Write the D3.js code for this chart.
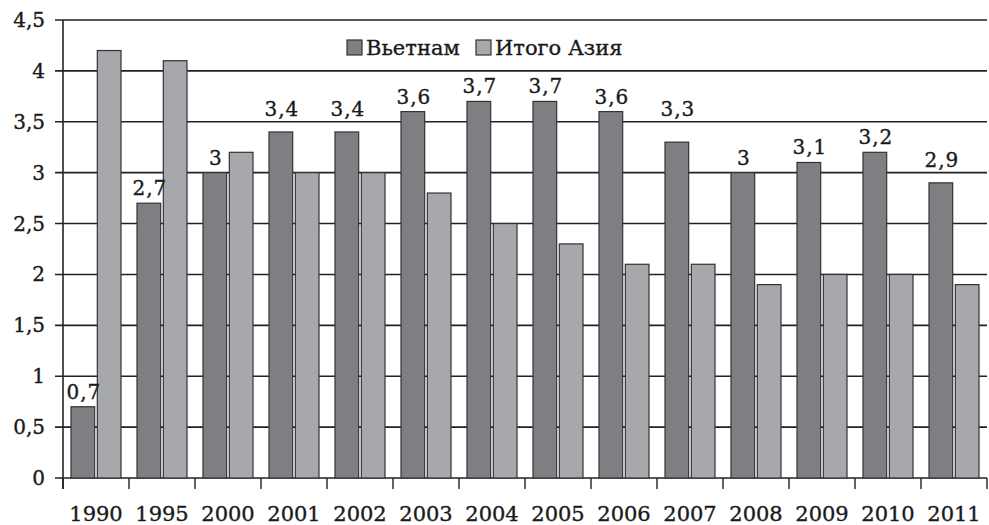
<!DOCTYPE html>
<html>
<head>
<meta charset="utf-8">
<script src="https://cdn.jsdelivr.net/npm/d3@7"></script>
<style>
  body { margin: 0; background: #fff; }
  text { font-family: "DejaVu Serif", "Liberation Serif", serif; fill: #1a1a1a; stroke: #1a1a1a; stroke-width: 0.35px; }
</style>
</head>
<body>
<script>
// chart data
var years = ["1990", "1995", "2000", "2001", "2002", "2003", "2004", "2005", "2006", "2007", "2008", "2009", "2010", "2011"];
var vietnam = [0.7, 2.7, 3, 3.4, 3.4, 3.6, 3.7, 3.7, 3.6, 3.3, 3, 3.1, 3.2, 2.9];
var asia = [4.2, 4.1, 3.2, 3.0, 3.0, 2.8, 2.5, 2.3, 2.1, 2.1, 1.9, 2.0, 2.0, 1.9];
var seriesNames = ["Вьетнам", "Итого Азия"];
var yTicks = [0, 0.5, 1, 1.5, 2, 2.5, 3, 3.5, 4, 4.5];

var colors = ["#7e7f83", "#a7a8ac"];

var margin = {top: 20, right: 2, bottom: 47, left: 63},
    width = 989 - margin.left - margin.right,
    height = 525 - margin.top - margin.bottom;

var fmt = function(v) { return String(v).replace(".", ","); };

var svg = d3.select("body").append("svg")
    .attr("width", 989)
    .attr("height", 525)
    .append("g")
    .attr("transform", "translate(" + margin.left + "," + margin.top + ")");

var x = d3.scaleBand().domain(years).range([0, width]).padding(0);
var x1 = d3.scaleBand().domain(seriesNames).range([8, 58]).paddingInner(0.1);
var y = d3.scaleLinear().domain([0, 4.5]).range([height, 0]);

// gridlines
svg.append("g")
    .selectAll("line")
    .data(yTicks)
    .enter()
    .append("line")
    .attr("x1", -8)
    .attr("x2", width)
    .attr("y1", function(d) { return y(d); })
    .attr("y2", function(d) { return y(d); })
    .attr("stroke", "#222")
    .attr("stroke-width", 1.6);

// y labels
svg.append("g")
    .selectAll("text")
    .data(yTicks)
    .enter()
    .append("text")
    .attr("x", -18)
    .attr("y", function(d) { return y(d); })
    .attr("dy", "0.35em")
    .attr("text-anchor", "end")
    .style("font-size", "20px")
    .text(fmt);

// bars
var rows = years.map(function(yr, i) { return {year: yr, vals: [vietnam[i], asia[i]]}; });

var groups = svg.selectAll(".grp")
    .data(rows)
    .enter()
    .append("g")
    .attr("transform", function(d) { return "translate(" + x(d.year) + ",0)"; });

groups.selectAll("rect")
    .data(function(d) { return d.vals.map(function(v, j) { return {name: seriesNames[j], v: v, j: j}; }); })
    .enter()
    .append("rect")
    .attr("x", function(d) { return x1(d.name); })
    .attr("width", x1.bandwidth())
    .attr("y", function(d) { return y(d.v); })
    .attr("height", function(d) { return height - y(d.v); })
    .attr("fill", function(d) { return colors[d.j]; })
    .attr("stroke", "#333")
    .attr("stroke-width", 1.2);

// label baseline: above the bar, but kept off the gridlines
function labelY(v) {
    var b = y(v) - 8;
    yTicks.forEach(function(t) {
        var g = y(t);
        if (g > b - 17 && g < b + 3) b = g - 6;
    });
    return b;
}

// value labels on Vietnam bars
groups.append("text")
    .attr("x", function(d) { return x1(seriesNames[0]) + x1.bandwidth() / 2 + 1; })
    .attr("y", function(d) { return labelY(d.vals[0]); })
    .attr("text-anchor", "middle")
    .style("font-size", "20px")
    .style("letter-spacing", "1px")
    .text(function(d) { return fmt(d.vals[0]); });

// axes lines
svg.append("line")
    .attr("x1", 0).attr("x2", 0)
    .attr("y1", 0).attr("y2", height + 11)
    .attr("stroke", "#222").attr("stroke-width", 1.6);

svg.append("g")
    .selectAll("line")
    .data(d3.range(years.length + 1))
    .enter()
    .append("line")
    .attr("x1", function(d) { return d * x.step(); })
    .attr("x2", function(d) { return d * x.step(); })
    .attr("y1", height)
    .attr("y2", height + 11)
    .attr("stroke", "#222")
    .attr("stroke-width", 1.4);

svg.append("g")
    .selectAll("text")
    .data(years)
    .enter()
    .append("text")
    .attr("x", function(d) { return x(d) + x.bandwidth() / 2; })
    .attr("y", height + 43)
    .attr("text-anchor", "middle")
    .style("font-size", "21px")
    .text(function(d) { return d; });

// legend
var legend = svg.append("g").attr("transform", "translate(284,27)");
var lx = [0, 129];
seriesNames.forEach(function(n, i) {
    legend.append("rect")
        .attr("x", lx[i]).attr("y", -7)
        .attr("width", 15).attr("height", 15)
        .attr("fill", colors[i])
        .attr("stroke", "#333")
        .attr("stroke-width", 1.2);
    legend.append("text")
        .attr("x", lx[i] + 19).attr("y", 1)
        .attr("dy", "0.35em")
        .style("font-size", "21px")
        .text(n);
});
</script>
</body>
</html>
